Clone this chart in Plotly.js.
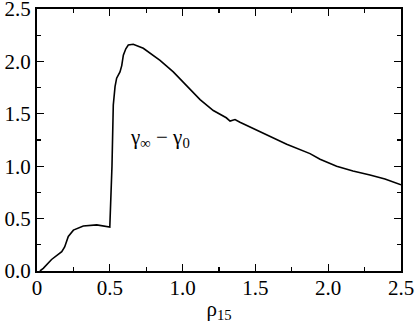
<!DOCTYPE html>
<html>
<head>
<meta charset="utf-8">
<script src="https://cdn.plot.ly/plotly-3.0.1.min.js"></script>
<style>
  html, body { margin: 0; padding: 0; background: #fff; }
  #chart { width: 415px; height: 323px; }
</style>
</head>
<body>
<div id="chart"></div>
<script>
// valeurs
var rho = [0.02, 0.043, 0.10, 0.17, 0.19, 0.215, 0.25, 0.318, 0.41, 0.497,
  0.50, 0.515, 0.524, 0.536, 0.547, 0.57, 0.582, 0.593, 0.61, 0.627, 0.661,
  0.73, 0.845, 0.936, 1.028, 1.085, 1.12, 1.211, 1.30, 1.326, 1.36, 1.394,
  1.486, 1.60, 1.715, 1.875, 1.944, 2.058, 2.17, 2.287, 2.39, 2.5];
var dgamma = [0.0, 0.025, 0.11, 0.185, 0.23, 0.33, 0.39, 0.43, 0.44, 0.423,
  0.42, 1.0, 1.584, 1.76, 1.84, 1.90, 1.96, 2.06, 2.12, 2.157, 2.163,
  2.125, 2.01, 1.90, 1.765, 1.68, 1.636, 1.531, 1.462, 1.431, 1.445, 1.42,
  1.36, 1.28, 1.21, 1.12, 1.066, 1.00, 0.954, 0.916, 0.878, 0.822];

var xTicks = [0, 0.5, 1.0, 1.5, 2.0, 2.5];
var xTickText = ["0", "0.5", "1.0", "1.5", "2.0", "2.5"];
var yTicks = [0, 0.5, 1.0, 1.5, 2.0, 2.5];
var yTickText = ["0.0", "0.5", "1.0", "1.5", "2.0", "2.5"];

var serif = "Liberation Serif, Times New Roman, serif";

var trace = {
  x: rho,
  y: dgamma,
  type: "scatter",
  mode: "lines",
  line: { color: "black", width: 1.6 },
  hoverinfo: "none"
};

function makeAxis(extra) {
  var ax = {
    showline: true,
    linewidth: 2,
    linecolor: "black",
    mirror: "ticks",
    ticks: "inside",
    ticklen: 7,
    tickwidth: 1.3,
    tickcolor: "black",
    showgrid: false,
    zeroline: false,
    fixedrange: true,
    ticklabeloverflow: "allow",
    tickfont: { family: serif, size: 21, color: "black" },
    minor: { ticks: "inside", ticklen: 4, tickwidth: 1.3, tickcolor: "black", dtick: 0.25, showgrid: false }
  };
  for (var k in extra) ax[k] = extra[k];
  return ax;
}

var layout = {
  width: 415,
  height: 323,
  margin: { l: 37, r: 14, t: 9, b: 52 },
  font: { family: serif, size: 21, color: "black" },
  paper_bgcolor: "white",
  plot_bgcolor: "white",
  showlegend: false,
  xaxis: makeAxis({
    range: [0, 2.5],
    tickmode: "array",
    tickvals: xTicks,
    ticktext: xTickText,
    ticklabelstandoff: -3,
    title: { text: "ρ<sub>15</sub>", font: { family: serif, size: 21, color: "black" }, standoff: 4 }
  }),
  yaxis: makeAxis({
    range: [0, 2.5],
    tickmode: "array",
    tickvals: yTicks,
    ticktext: yTickText
  }),
  annotations: [{
    x: 0.845, y: 1.27,
    xref: "x", yref: "y",
    text: "γ<sub>∞</sub> − γ<sub>0</sub>",
    showarrow: false,
    font: { family: serif, size: 21, color: "black" }
  }]
};

Plotly.newPlot("chart", [trace], layout, { displayModeBar: false, staticPlot: true });
</script>
</body>
</html>
